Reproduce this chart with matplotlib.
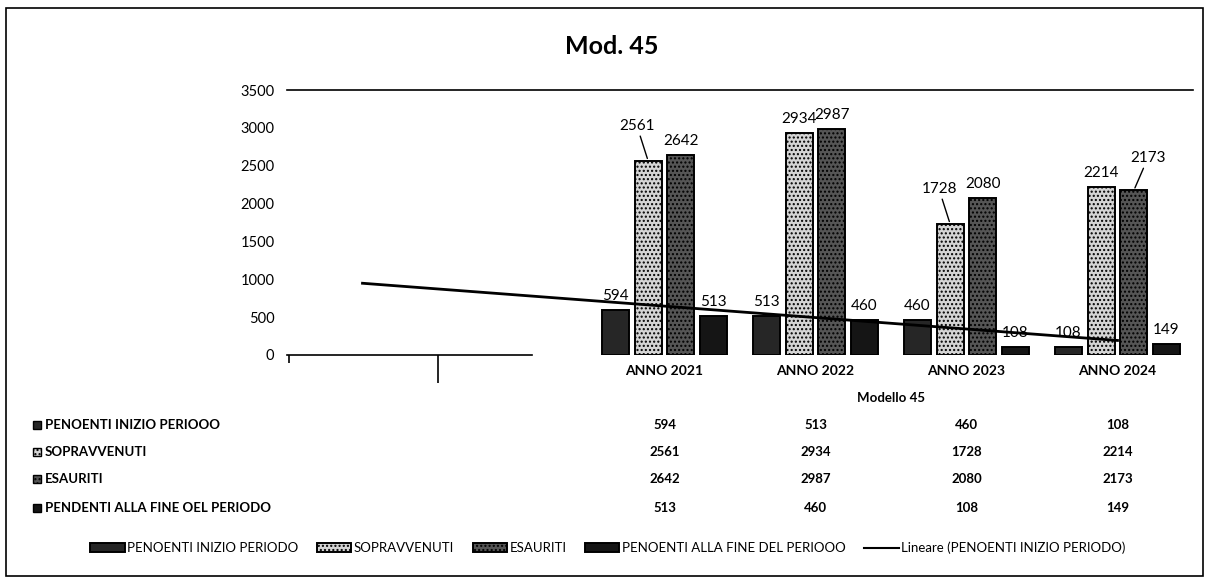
import numpy as np
import matplotlib
matplotlib.use("Agg")
import matplotlib.pyplot as plt
from matplotlib.patches import Rectangle
from matplotlib.lines import Line2D
import matplotlib.transforms as mtransforms

plt.rcParams['font.family'] = ['Lato', 'DejaVu Sans']

# data (two empty leading categories as in the original sheet)
categories = ['', '', 'ANNO 2021', 'ANNO 2022', 'ANNO 2023', 'ANNO 2024']
first_cat = 2
series_names = ['PENOENTI INIZIO PERIODO', 'SOPRAVVENUTI', 'ESAURITI',
                'PENOENTI ALLA FINE DEL PERIOOO']
table_names = ['PENOENTI INIZIO PERIOOO', 'SOPRAVVENUTI', 'ESAURITI',
               'PENDENTI ALLA FINE OEL PERIODO']
pendenti_inizio = [594, 513, 460, 108]
sopravvenuti = [2561, 2934, 1728, 2214]
esauriti = [2642, 2987, 2080, 2173]
pendenti_fine = [513, 460, 108, 149]
trend_label = 'Lineare (PENOENTI INIZIO PERIODO)'

series = [pendenti_inizio, sopravvenuti, esauriti, pendenti_fine]
colors = ['#262626', '#d4d4d4', '#555555', '#151515']
hatches = [None, '....', '....', None]
# labels drawn with a leader line: (series index, point index) -> text offset
leaders = {(1, 0): (-8, 20), (1, 2): (-8, 20), (2, 3): (10, 18)}

W, H = 1209, 579
fig = plt.figure(figsize=(W / 100, H / 100), dpi=100)
ax = fig.add_axes([287 / W, 1 - 355 / H, (1193 - 287) / W, (355 - 90) / H])

x = np.arange(first_cat, len(categories))
offsets = [-0.325, -0.108, 0.108, 0.325]
bw = 0.18
for i, vals in enumerate(series):
    bars = ax.bar(x + offsets[i], vals, width=bw, color=colors[i],
                  edgecolor='black', linewidth=1.4, hatch=hatches[i], zorder=2)
    for j, b in enumerate(bars):
        v = vals[j]
        cx = b.get_x() + b.get_width() / 2
        if (i, j) in leaders:
            ax.annotate(str(v), (cx, v), xytext=leaders[(i, j)], textcoords='offset points',
                        ha='center', va='bottom', fontsize=11,
                        arrowprops=dict(arrowstyle='-', color='black', lw=1,
                                        shrinkA=0, shrinkB=2), zorder=4)
        else:
            ax.annotate(str(v), (cx, v), xytext=(0, 5), textcoords='offset points',
                        ha='center', va='bottom', fontsize=11, zorder=4)

# linear trendline of PENDENTI INIZIO PERIODO, over all categories
k, q = np.polyfit(x, pendenti_inizio, 1)
xt = np.array([0, len(categories) - 1])
ax.plot(xt, k * xt + q, color='black', lw=2, zorder=3)

ax.set_xlim(-0.5, len(categories) - 0.5)
ax.set_ylim(0, 3500)
ax.set_yticks(np.arange(0, 3501, 500))
ax.tick_params(axis='y', length=0, pad=9, labelsize=10.5)
ax.set_xticks(x)
ax.set_xticklabels(categories[first_cat:], fontsize=10, fontweight='bold')
ax.tick_params(axis='x', length=0, pad=7)
ax.set_xticks([-0.49, 0.5], minor=True)
ax.tick_params(axis='x', which='minor', length=20, width=1.2, direction='out')
for s in ['left', 'right']:
    ax.spines[s].set_visible(False)
ax.spines['top'].set_linewidth(1.2)
ax.spines['bottom'].set_bounds(-0.5, 1.12)
ax.spines['bottom'].set_linewidth(1.2)
ax.xaxis.get_minor_ticks()[0].tick1line.set_markersize(6)

# axis title centered over the data categories
tr = mtransforms.blended_transform_factory(ax.transData, fig.transFigure)
ax.text(x.mean(), 1 - 398 / H, 'Modello 45', transform=tr, ha='center',
        va='center', fontsize=9.5, fontweight='bold')

# data table
row_y = [425, 452, 479, 508]
for r, vals in enumerate(series):
    yy = 1 - row_y[r] / H
    fig.patches.append(Rectangle((33 / W, yy - 4 / H), 8 / W, 8 / H,
                                 transform=fig.transFigure, facecolor=colors[r],
                                 edgecolor='black', lw=1, hatch=hatches[r]))
    fig.text(45 / W, yy, table_names[r], ha='left', va='center',
             fontsize=9.5, fontweight='bold')
    for j, v in enumerate(vals):
        ax.text(x[j], yy, str(v), transform=tr, ha='center', va='center',
                fontsize=9.5, fontweight='bold')

# legend
handles = [Rectangle((0, 0), 1, 1, facecolor=colors[i], edgecolor='black', lw=1.4,
                     hatch=hatches[i]) for i in range(4)]
handles.append(Line2D([0], [0], color='black', lw=1.5))
fig.legend(handles, series_names + [trend_label], loc='center', ncol=5,
           bbox_to_anchor=(608 / W, 1 - 548 / H), frameon=False, fontsize=9.5,
           handlelength=2.6, handleheight=0.6, handletextpad=0.2,
           columnspacing=1.4)

fig.text(612 / W, 1 - 47 / H, 'Mod. 45', ha='center', va='center',
         fontsize=18, fontweight='bold')

# chart border
fig.patches.append(Rectangle((6 / W, 3 / H), 1197 / W, (H - 11) / H,
                             transform=fig.transFigure, fill=False,
                             edgecolor='black', lw=1.2))

fig.savefig('out.png', dpi=100)
